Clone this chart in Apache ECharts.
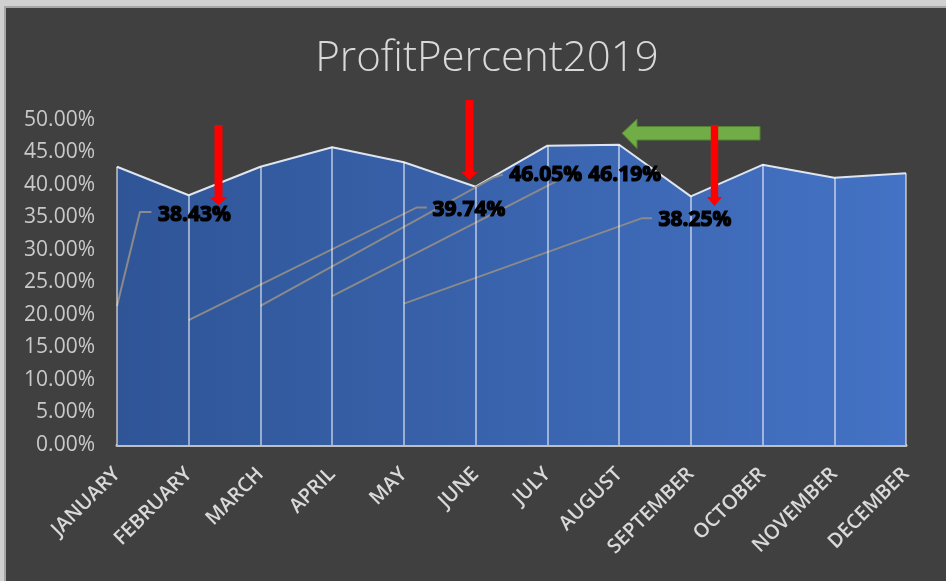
<!DOCTYPE html>
<html>
<head>
<meta charset="utf-8">
<title>ProfitPercent2019</title>
<script src="https://cdn.jsdelivr.net/npm/echarts@6/dist/echarts.min.js"></script>
<style>
  html, body { margin: 0; padding: 0; background: #404040; }
  #chart { width: 946px; height: 581px; }
</style>
</head>
<body>
<div id="chart"></div>
<script>
// months on the x axis
const months = ['JANUARY', 'FEBRUARY', 'MARCH', 'APRIL', 'MAY', 'JUNE',
  'JULY', 'AUGUST', 'SEPTEMBER', 'OCTOBER', 'NOVEMBER', 'DECEMBER'];
// profit percent per month (labelled ones exact)
const profit = [42.8, 38.43, 42.8, 45.8, 43.5, 39.74, 46.05, 46.19, 38.25, 43.1, 41.1, 41.8];
// y axis: 0.00% .. 50.00% every 5%
const yMin = 0, yMax = 50, yStep = 5;

// which points carry a data label
const labelled = [1, 5, 6, 7, 8];
// where each label was dragged to (category index, value)
const labelSpots = [[0.57, 35.4], [4.4, 36.2], [5.47, 41.5], [6.57, 41.5], [7.55, 34.6]];
// leader lines leave from the middle of these points ...
const leaderFrom = [0, 1, 2, 3, 4];
// ... and bend here before the label
const leaderBends = [
  [[0.32, 35.85], [0.48, 35.85]],
  [[4.18, 36.55], [4.32, 36.55]],
  [[5.24, 41.1], [5.38, 41.6]],
  [[6.13, 40.6]],
  [[7.32, 34.9], [7.46, 34.9]]
];

const chart = echarts.init(document.getElementById('chart'));

const labelFont = {
  color: '#000',
  fontFamily: 'Open Sans',
  fontWeight: 'bold',
  fontSize: 21,
  textBorderColor: '#000',
  textBorderWidth: 1.2
};

const option = {
  animation: false,
  backgroundColor: '#404040',
  title: {
    text: 'ProfitPercent2019',
    left: 482,
    top: 33,
    textAlign: 'center',
    textStyle: { color: '#d9d9d9', fontFamily: 'Open Sans', fontWeight: 300, fontSize: 42 }
  },
  grid: { left: 117, right: 40, top: 120, bottom: 136 },
  xAxis: {
    type: 'category',
    data: months,
    boundaryGap: false,
    axisLine: { lineStyle: { color: '#bfbfbf', width: 3 } },
    axisTick: { show: false },
    splitLine: { show: false },
    axisLabel: {
      rotate: 45,
      margin: 26,
      interval: 0,
      color: '#d9d9d9',
      fontFamily: 'Open Sans',
      fontWeight: 600,
      fontSize: 20
    }
  },
  yAxis: {
    type: 'value',
    min: yMin,
    max: yMax,
    interval: yStep,
    axisLine: { show: false },
    axisTick: { show: false },
    splitLine: { show: false },
    axisLabel: {
      margin: 22,
      color: '#c9c9c9',
      fontFamily: 'Open Sans',
      fontSize: 21,
      formatter: v => v.toFixed(2) + '%'
    }
  },
  series: [{
    // the area itself
    type: 'line',
    z: 2,
    data: profit,
    showSymbol: false,
    lineStyle: { color: '#dfe5ef', width: 2 },
    areaStyle: {
      opacity: 1,
      color: new echarts.graphic.LinearGradient(0, 0, 1, 0, [
        { offset: 0, color: '#2f5597' },
        { offset: 1, color: '#4472c4' }
      ])
    },
    markLine: {
      silent: true,
      symbol: ['none', 'none'],
      label: { show: false },
      lineStyle: { color: 'rgba(255,255,255,0.5)', width: 2, type: 'solid' },
      data: profit.map((v, i) => [{ coord: [i, 0] }, { coord: [i, v] }])
    }
  }, {
    // same values again, only to carry the data labels above the leader lines
    type: 'line',
    z: 5,
    data: profit.map((v, i) => labelled.includes(i) ? { value: v, label: { show: true } } : v),
    symbol: 'circle',
    symbolSize: 2,
    showSymbol: true,
    itemStyle: { color: 'transparent' },
    lineStyle: { opacity: 0 },
    label: Object.assign({ show: false, formatter: p => p.value.toFixed(2) + '%' }, labelFont)
  }]
};
chart.setOption(option);

// pixel of a (possibly fractional) category index and value
function toPx(i, v) {
  const i0 = Math.floor(i);
  const i1 = Math.min(i0 + 1, months.length - 1);
  const p0 = chart.convertToPixel({ gridIndex: 0 }, [i0, v]);
  const p1 = chart.convertToPixel({ gridIndex: 0 }, [i1, v]);
  return [p0[0] + (i - i0) * (p1[0] - p0[0]), p0[1]];
}

const spotsPx = labelSpots.map(s => toPx(s[0], s[1]));

const leaders = leaderFrom.map((k, n) => ({
  type: 'polyline',
  z: 3,
  silent: true,
  shape: { points: [toPx(k, profit[k] / 2)].concat(leaderBends[n].map(b => toPx(b[0], b[1]))) },
  style: { stroke: '#8a8a8a', lineWidth: 2, fill: null }
}));

// arrow shapes (decoration)
function downArrow(cx, top, headTop, tip, shaftHalf, headHalf) {
  return {
    type: 'polygon', z: 21, silent: true,
    shape: { points: [[cx - shaftHalf, top], [cx + shaftHalf, top], [cx + shaftHalf, headTop],
      [cx + headHalf, headTop], [cx, tip], [cx - headHalf, headTop], [cx - shaftHalf, headTop]] },
    style: { fill: '#ff0000' }
  };
}

const arrows = [
  {
    type: 'polygon', z: 20, silent: true,
    shape: { points: [[760, 126.5], [760, 140], [637, 140], [637, 148.5], [622, 133.3],
      [637, 119], [637, 126.5]] },
    style: { fill: '#70ad47', stroke: '#548235', lineWidth: 1 }
  },
  downArrow(218.5, 125, 197, 205, 4, 9.5),
  downArrow(469.5, 100, 172, 180, 4, 8),
  downArrow(714.5, 125, 197, 206, 3.7, 7.5)
];

const frame = [
  { type: 'rect', z: 30, silent: true, shape: { x: 0, y: 0, width: 946, height: 6 }, style: { fill: '#d0d0d0' } },
  { type: 'rect', z: 30, silent: true, shape: { x: 0, y: 0, width: 4, height: 581 }, style: { fill: '#d0d0d0' } },
  { type: 'line', z: 31, silent: true, shape: { x1: 4, y1: 7, x2: 946, y2: 7 }, style: { stroke: '#a6a6a6', lineWidth: 2 } },
  { type: 'line', z: 31, silent: true, shape: { x1: 5, y1: 6, x2: 5, y2: 581 }, style: { stroke: '#a6a6a6', lineWidth: 2 } }
];

chart.setOption({
  series: [{}, {
    labelLayout: params => {
      const k = labelled.indexOf(params.dataIndex);
      if (k < 0) return {};
      return { x: spotsPx[k][0], y: spotsPx[k][1], align: 'left', verticalAlign: 'middle' };
    }
  }],
  graphic: leaders.concat(arrows, frame)
});
</script>
</body>
</html>
